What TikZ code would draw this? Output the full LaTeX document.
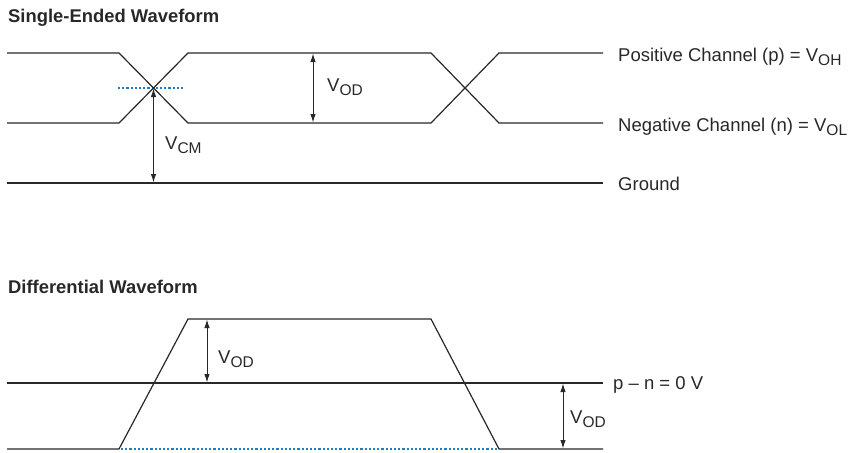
\documentclass[tikz,border=0pt]{standalone}
\usepackage{fontspec}
\setmainfont{Liberation Sans}
\usetikzlibrary{arrows.meta}
\definecolor{wavecol}{RGB}{40,40,40}
\definecolor{dotblue}{RGB}{30,125,195}
\newcommand\mysub[1]{\raisebox{-0.24em}{\fontsize{15.5}{16}\selectfont #1}}
\tikzset{
  wave/.style={draw=wavecol, line width=1.2pt, line join=miter},
  guide/.style={draw=dotblue, line width=1.3pt, dash pattern=on 2.2pt off 2pt},
  measure/.style={draw=wavecol, line width=1pt, {Latex[length=8.5pt,width=5.5pt]}-{Latex[length=8.5pt,width=5.5pt]}, shorten >=0.5pt, shorten <=0.5pt},
  lbl/.style={anchor=base west, inner sep=0pt, font=\fontsize{18.5}{20}\selectfont, text=wavecol},
  ttl/.style={anchor=base west, inner sep=0pt, font=\fontsize{18.4}{20}\selectfont\bfseries, text=wavecol},
}
\begin{document}
\begin{tikzpicture}[x=1pt,y=-1pt]
\useasboundingbox (0,0) rectangle (850,452);
% titles
\node[ttl] (t1) at (8,23) {Single-Ended Waveform};
\node[ttl] (t2) at (8,293) {Differential Waveform};
% ---------- single-ended ----------
\coordinate (cx1) at (153.5,88);
\coordinate (gnd1) at (153.5,183);
\coordinate (vodt) at (313,53);
\coordinate (vodb) at (313,123);
\draw[guide] (118,88) -- (185,88);
\draw[wave] (7,53) -- (119,53) -- (188,123) -- (431,123) -- (499,53) -- (603,53);
\draw[wave] (7,123) -- (119,123) -- (188,53) -- (431,53) -- (499,123) -- (603,123);
\draw[wave] (7,183) -- (603,183);
\draw[measure] (cx1) -- (gnd1);
\draw[measure] (vodt) -- (vodb);
\node[lbl] (vcm) at (165,149) {V\mysub{CM}};
\node[lbl] (vod1) at (327,91) {V\mysub{OD}};
\node[lbl] (pos) at (618,61) {Positive Channel (p) = V\mysub{OH}};
\node[lbl] (neg) at (618,131) {Negative Channel (n) = V\mysub{OL}};
\node[lbl] (gnd) at (618,190) {Ground};
% ---------- differential ----------
\coordinate (d1t) at (207,319);
\coordinate (d1b) at (207,383);
\coordinate (d2t) at (563,383);
\coordinate (d2b) at (563,449);
\draw[guide] (121,449) -- (497,449);
\draw[wave] (7,449) -- (119,449) -- (188,319) -- (431,319) -- (499,449) -- (603,449);
\draw[wave] (7,383) -- (603,383);
\draw[measure] (d1t) -- (d1b);
\draw[measure] (d2t) -- (d2b);
\node[lbl] (vod2) at (218,363) {V\mysub{OD}};
\node[lbl] (vod3) at (570,423) {V\mysub{OD}};
\node[lbl] (zero) at (613,389) {p -- n = 0 V};
\end{tikzpicture}
\end{document}
